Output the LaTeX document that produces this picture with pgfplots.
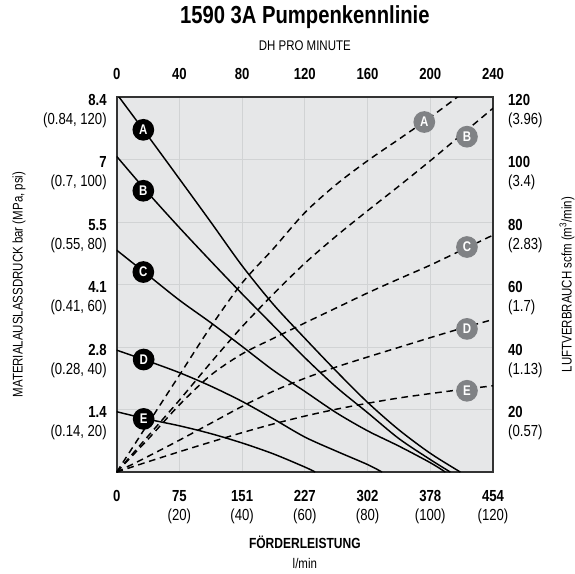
\documentclass[border=0pt]{standalone}
\usepackage{fontspec}
\setmainfont{Liberation Sans}[FakeStretch=0.82]
\usepackage{pgfplots}
\pgfplotsset{compat=1.18}
\definecolor{bg}{HTML}{E6E7E8}
\definecolor{gridc}{HTML}{D1D3D4}
\definecolor{framec}{HTML}{333333}
\definecolor{circg}{HTML}{808285}
\newcommand{\tickfont}{\fontsize{12}{14.25}\selectfont}
\begin{document}
\begin{tikzpicture}
\begin{axis}[
  scale only axis, width=282.2pt, height=281.25pt,
  xmin=0, xmax=120, ymin=0, ymax=120,
  axis background/.style={fill=bg},
  axis line style={draw=framec, line width=1.5pt},
  xtick={0,20,...,120}, ytick={20,40,...,120},
  xticklabels={{\textbf{0}\\\phantom{(0)}}, {\textbf{75}\\(20)}, {\textbf{151}\\(40)}, {\textbf{227}\\(60)}, {\textbf{302}\\(80)}, {\textbf{378}\\(100)}, {\textbf{454}\\(120)}},
  yticklabels={{\textbf{1.4}\\(0.14, 20)}, {\textbf{2.8}\\(0.28, 40)}, {\textbf{4.1}\\(0.41, 60)}, {\textbf{5.5}\\(0.55, 80)}, {\textbf{7}\\(0.7, 100)}, {\textbf{8.4}\\(0.84, 120)}},
  xticklabel style={align=center, anchor=base, yshift=-36pt, font=\tickfont, inner sep=0pt},
  yticklabel style={align=right, anchor=base east, xshift=-7.3pt, yshift=-20.5pt, font=\tickfont, inner sep=0pt},
  major tick length=0pt, tick style={draw=none},
  grid=major, grid style={gridc, line width=0.75pt},
]
% solid pressure curves
\addplot[black, line width=1.1pt, smooth, tension=0.5] coordinates {(0,121) (10,107.5) (20,93.8) (30,80) (40,66) (50,53.6) (60,42.8) (70,32.3) (80,22.3) (90,13.5) (100,6) (109.6,0)};
\addplot[black, line width=1.1pt, smooth, tension=0.5] coordinates {(0,101) (10,89.3) (20,78.2) (30,67.5) (40,57) (50,46.8) (60,36.6) (70,27.2) (80,19) (90,10.7) (100,4) (106.4,0)};
\addplot[black, line width=1.1pt, smooth, tension=0.5] coordinates {(0,71) (10,63) (20,55) (30,47.8) (40,40.2) (50,32.5) (60,25.8) (70,19) (80,13.2) (90,8.3) (100,3) (104.8,0)};
\addplot[black, line width=1.1pt, smooth, tension=0.5] coordinates {(0,39) (10,35.5) (20,31.8) (30,27.5) (40,22.6) (50,17) (60,11.2) (70,6.7) (80,2.4) (84.6,0)};
\addplot[black, line width=1.1pt, smooth, tension=0.5] coordinates {(0,19.3) (10,16.9) (20,14.8) (30,12.3) (40,9.3) (50,5.8) (60,1.6) (63.3,0)};
% dashed air curves
\addplot[black, line width=1.1pt, dash pattern=on 5pt off 3.5pt, smooth, tension=0.5] coordinates {(0,0) (10,15.5) (20,31) (30,46.5) (40,60.5) (50,71.5) (60,83) (70,92) (80,99.6) (90,106.5) (100,113.5) (110,121)};
\addplot[black, line width=1.1pt, dash pattern=on 5pt off 3.5pt, smooth, tension=0.5] coordinates {(0,0) (10,11.5) (20,23) (30,35) (40,46.5) (50,57) (60,66.8) (70,75.5) (80,83.6) (90,91.5) (100,99.6) (110,108) (120,116.4)};
\addplot[black, line width=1.1pt, dash pattern=on 5pt off 3.5pt, smooth, tension=0.5] coordinates {(0,0) (10,10.5) (20,21.5) (30,31) (40,37.8) (50,42.8) (60,47.7) (70,52.5) (80,57.3) (90,61.8) (100,66.2) (110,71) (120,75.8)};
\addplot[black, line width=1.1pt, dash pattern=on 5pt off 3.5pt, smooth, tension=0.5] coordinates {(0,0) (10,5) (20,10.2) (30,15.6) (40,21) (50,25.9) (60,30) (70,33.6) (80,36.8) (90,39.9) (100,43) (110,46) (120,48.8)};
\addplot[black, line width=1.1pt, dash pattern=on 5pt off 3.5pt, smooth, tension=0.5] coordinates {(0,0) (10,3.3) (20,6.5) (30,9.6) (40,12.6) (50,15.4) (60,17.9) (70,20.1) (80,22) (90,23.7) (100,25.1) (110,26.4) (120,27.6)};
% curve labels
\tikzset{lab/.style={circle, inner sep=0pt, minimum size=16.3pt, text=white, font=\bfseries\fontsize{10.5}{10.5}\selectfont}}
\node[lab, fill=black] at (axis cs:8.5,109.5) {A};
\node[lab, fill=black] at (axis cs:8.5,90) {B};
\node[lab, fill=black] at (axis cs:8.5,64) {C};
\node[lab, fill=black] at (axis cs:8.6,36) {D};
\node[lab, fill=black] at (axis cs:8.6,17) {E};
\node[lab, fill=circg] at (axis cs:98.1,112) {A};
\node[lab, fill=circg] at (axis cs:111.7,107.3) {B};
\node[lab, fill=circg] at (axis cs:111.7,72) {C};
\node[lab, fill=circg] at (axis cs:111.7,45.8) {D};
\node[lab, fill=circg] at (axis cs:111.7,26) {E};
\end{axis}
\begin{axis}[
  scale only axis, width=282.2pt, height=281.25pt,
  xmin=0, xmax=120, ymin=0, ymax=120, clip=false,
  axis line style={draw=none}, tick style={draw=none}, major tick length=0pt,
  xtick={0,20,...,120}, ytick={20,40,...,120},
  xticklabel pos=upper, yticklabel pos=right,
  xticklabels={\textbf{0},\textbf{40},\textbf{80},\textbf{120},\textbf{160},\textbf{200},\textbf{240}},
  yticklabels={{\textbf{20}\\(0.57)}, {\textbf{40}\\(1.13)}, {\textbf{60}\\(1.7)}, {\textbf{80}\\(2.83)}, {\textbf{100}\\(3.4)}, {\textbf{120}\\(3.96)}},
  xticklabel style={anchor=base, yshift=13.5pt, font=\tickfont, inner sep=0pt},
  yticklabel style={align=left, anchor=base west, xshift=11.2pt, yshift=-20.5pt, font=\tickfont, inner sep=0pt},
]
\node[anchor=base, font=\bfseries\fontsize{18.5}{21}\selectfont] at (rel axis cs:0.5,1) [yshift=55pt] {1590 3A Pumpenkennlinie};
\node[anchor=base, font=\fontsize{10.5}{12}\selectfont] at (rel axis cs:0.5,1) [yshift=34.5pt] {DH PRO MINUTE};
\node[anchor=base, font=\bfseries\fontsize{11}{13}\selectfont] at (rel axis cs:0.5,0) [yshift=-57pt] {FÖRDERLEISTUNG};
\node[anchor=base, font=\fontsize{10.5}{12}\selectfont] at (rel axis cs:0.5,0) [yshift=-72pt] {l/min};
\node[xshift=-73.3pt, rotate=90, font=\fontsize{10.5}{12}\selectfont] at (rel axis cs:0,0.5) {MATERIALAUSLASSDRUCK bar (MPa, psi)};
\node[xshift=55.5pt, rotate=90, font=\fontsize{10.5}{12}\selectfont] at (rel axis cs:1,0.5) {LUFTVERBRAUCH scfm (m\textsuperscript{3}/min)};
\end{axis}
\pgfresetboundingbox
\path[use as bounding box] (-87.5pt,-75.75pt) rectangle (343.7pt,354pt);
\end{tikzpicture}
\end{document}
